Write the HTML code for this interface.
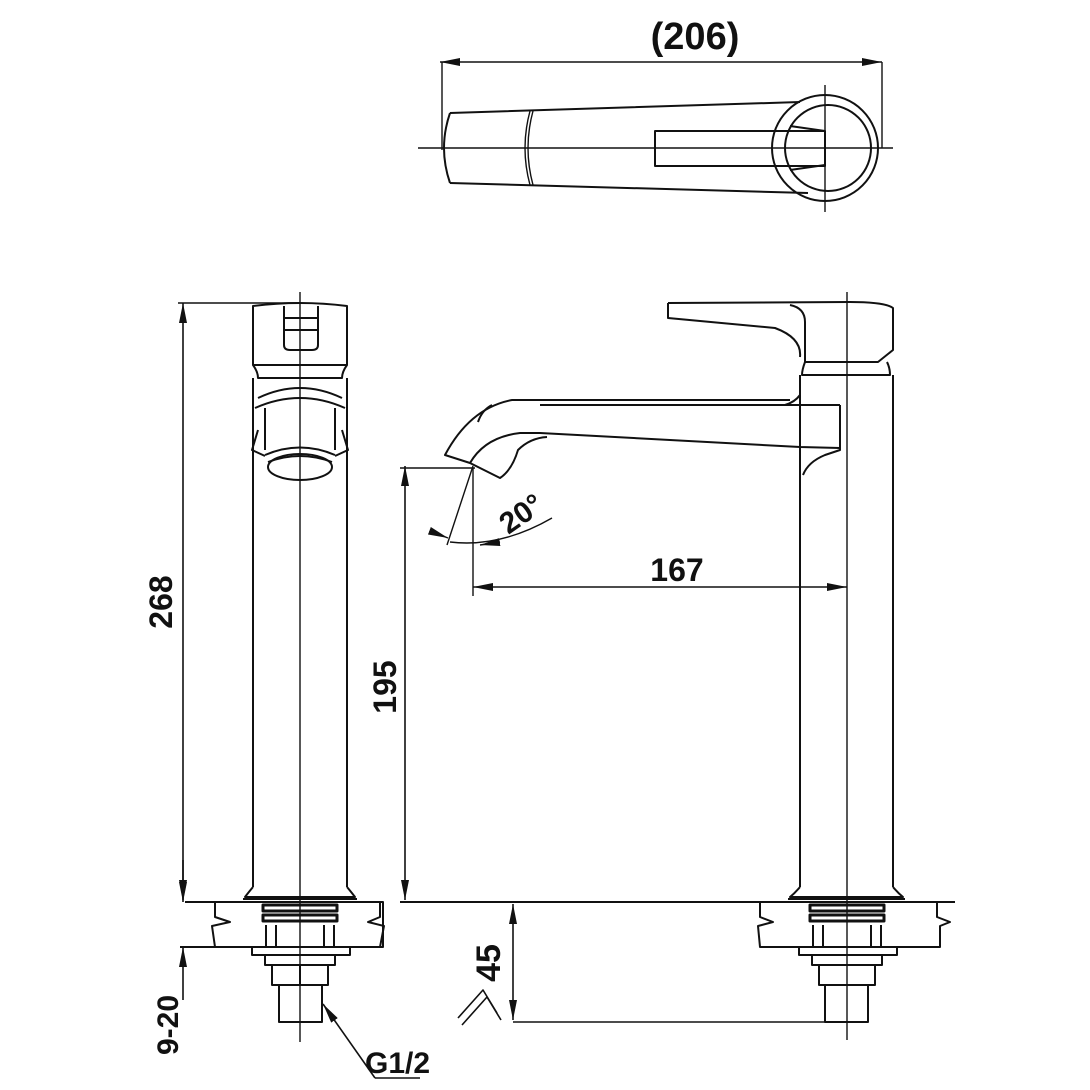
<!DOCTYPE html>
<html><head><meta charset="utf-8"><style>
html,body{margin:0;padding:0;background:#fff;width:1090px;height:1090px;overflow:hidden}
svg{display:block}
text{font-family:"Liberation Sans",sans-serif;font-weight:bold;fill:#111}
</style></head><body>
<svg width="1090" height="1090" viewBox="0 0 1090 1090" xmlns="http://www.w3.org/2000/svg">
<defs>
<marker id="a" viewBox="0 0 20 8" refX="20" refY="4" markerWidth="20" markerHeight="8" markerUnits="userSpaceOnUse" orient="auto-start-reverse"><path d="M0,0 L20,4 L0,8 z" fill="#111"/></marker>
</defs>
<g fill="none" stroke="#111" stroke-width="2" stroke-linejoin="round">
<!-- TOP VIEW -->
<line x1="440" y1="62" x2="882" y2="62" marker-start="url(#a)" marker-end="url(#a)" stroke-width="1.6"/>
<line x1="442" y1="62" x2="442" y2="150" stroke-width="1.4"/>
<line x1="882" y1="62" x2="882" y2="148" stroke-width="1.4"/>
<line x1="418" y1="148" x2="893" y2="148" stroke-width="1.4"/>
<line x1="825" y1="85" x2="825" y2="212" stroke-width="1.4"/>
<path d="M450,113 L800,102 M450,183 L808,193"/>
<path d="M450,113 Q438,148 450,183"/>
<path d="M530,111 Q520,148 530,185 M533,111 Q523,148 533,185" stroke-width="1.4"/>
<circle cx="825" cy="148" r="53"/>
<circle cx="828" cy="148" r="43"/>
<rect x="655" y="131" width="170" height="35"/>
<path d="M790,126 L825,131 M790,170 L825,165"/>
<!-- LEFT VIEW -->
<line x1="183" y1="303" x2="183" y2="900" marker-start="url(#a)" marker-end="url(#a)" stroke-width="1.6"/>
<line x1="178" y1="303" x2="300" y2="303" stroke-width="1.4"/>
<line x1="300" y1="292" x2="300" y2="1042" stroke-width="1.4"/>
<path d="M253,306 Q300,300 347,306 L347,365 L253,365 Z"/>
<path d="M284,306 L284,345 Q284,350 290,350 L312,350 Q318,350 318,345 L318,306 M284,318 L318,318 M284,330 L318,330"/>
<path d="M253,365 Q258,372 258,378 L342,378 Q342,372 347,365 M253,378 L253,887 M347,378 L347,887"/>
<path d="M255,408 Q300,388 345,408 M258,398 Q300,378 342,398"/>
<path d="M265,408 L265,450 M335,408 L335,450 M265,455 Q300,440 335,455 M268,462 Q300,450 332,462"/>
<ellipse cx="300" cy="467" rx="32" ry="13"/>
<path d="M258,430 L252,450 L265,456 M342,430 L348,450 L335,456"/>
<!-- left bottom -->
<path d="M253,887 Q248,893 245,897 L355,897 Q352,893 347,887 M243,899 L357,899"/>
<path d="M185,902 L383,902 L383,947 L185,947 M215,902 L215,917 L230,922 L212,926 L215,947 M380,902 L380,917 L368,922 L384,926 L380,947"/>
<rect x="263" y="905" width="74" height="6" stroke-width="3"/>
<rect x="263" y="915" width="74" height="6" stroke-width="3"/>
<path d="M266,925 L266,947 M334,925 L334,947 M276,925 L276,947 M324,925 L324,947" />
<rect x="252" y="947" width="98" height="8"/>
<rect x="265" y="955" width="70" height="10"/>
<path d="M272,965 L272,985 L328,985 L328,965 M300,965 L300,985"/>
<rect x="279" y="985" width="43" height="37"/>
<line x1="183" y1="860" x2="183" y2="902" marker-end="url(#a)" stroke-width="1.6"/>
<line x1="183" y1="1000" x2="183" y2="947" marker-end="url(#a)" stroke-width="1.6"/>
<line x1="180" y1="947" x2="185" y2="947"/>
<line x1="375" y1="1078" x2="323" y2="1004" marker-end="url(#a)" stroke-width="1.6"/>
<line x1="375" y1="1078" x2="420" y2="1078" stroke-width="1.6"/>
<!-- RIGHT VIEW -->
<line x1="847" y1="292" x2="847" y2="1040" stroke-width="1.4"/>
<path d="M668,303 L850,302 Q885,302 893,308 L893,350 L878,362 L805,362 L805,322 Q805,308 790,305 M668,303 L668,318 L775,328 Q802,338 800,357"/>
<path d="M805,362 Q802,370 802,375 L890,375 Q890,368 887,362 M800,375 L800,887 M893,375 L893,887"/>
<path d="M800,382 L800,395 Q795,402 785,405 L540,405 M535,400 L790,400"/>
<path d="M840,405 L840,450 L825,455 Q808,462 803,475"/>
<path d="M785,405 L840,405"/>
<path d="M535,400 L512,400 Q470,408 445,455 L470,463 Q485,437 520,433 L540,433 L800,447 L840,448"/>
<path d="M470,463 L500,478 Q512,470 518,450 Q530,438 547,437"/>
<path d="M478,422 Q482,410 492,405"/>
<!-- right bottom -->
<path d="M800,887 Q795,893 790,897 L903,897 Q898,893 893,887 M788,899 L905,899"/>
<path d="M400,902 L955,902 M760,902 L760,917 L773,922 L758,926 L760,947 L940,947 L940,926 L950,922 L937,917 L937,902"/>
<rect x="810" y="905" width="74" height="6" stroke-width="3"/>
<rect x="810" y="915" width="74" height="6" stroke-width="3"/>
<path d="M813,925 L813,947 M881,925 L881,947 M823,925 L823,947 M871,925 L871,947"/>
<rect x="799" y="947" width="98" height="8"/>
<rect x="812" y="955" width="70" height="10"/>
<path d="M819,965 L819,985 L875,985 L875,965"/>
<rect x="825" y="985" width="43" height="37"/>
<!-- dims -->
<line x1="473" y1="587" x2="847" y2="587" marker-start="url(#a)" marker-end="url(#a)" stroke-width="1.6"/>
<line x1="473" y1="468" x2="473" y2="596" stroke-width="1.4"/>
<line x1="400" y1="468" x2="475" y2="468" stroke-width="1.4"/>
<line x1="405" y1="466" x2="405" y2="900" marker-start="url(#a)" marker-end="url(#a)" stroke-width="1.6"/>
<line x1="473" y1="466" x2="447" y2="545" stroke-width="1.4"/>
<path d="M450,542 Q500,548 552,518" stroke-width="1.4"/>
<line x1="480" y1="545" x2="500" y2="542" marker-start="url(#a)" stroke-width="1.4" />
<line x1="430" y1="531" x2="448" y2="538" marker-end="url(#a)" stroke-width="1.4"/>
<line x1="513" y1="904" x2="513" y2="1020" marker-start="url(#a)" marker-end="url(#a)" stroke-width="1.6"/>
<line x1="513" y1="1022" x2="826" y2="1022" stroke-width="1.4"/>
<path d="M458,1018 L483,990 L497,1013 M462,1025 L487,997 L501,1020" stroke-width="1.6"/>
</g>
<text x="695" y="49" font-size="38" text-anchor="middle">(206)</text>
<text x="677" y="581" font-size="32" text-anchor="middle">167</text>
<text transform="translate(172,602) rotate(-90)" font-size="32" text-anchor="middle">268</text>
<text transform="translate(396,687) rotate(-90)" font-size="32" text-anchor="middle">195</text>
<text transform="translate(500,963) rotate(-90)" font-size="34" text-anchor="middle">45</text>
<text transform="translate(178,1025) rotate(-90)" font-size="30" text-anchor="middle">9-20</text>
<text transform="translate(527,522) rotate(-35)" font-size="30" text-anchor="middle">20°</text>
<text x="365" y="1073" font-size="30">G1/2</text>
</svg>
</body></html>
